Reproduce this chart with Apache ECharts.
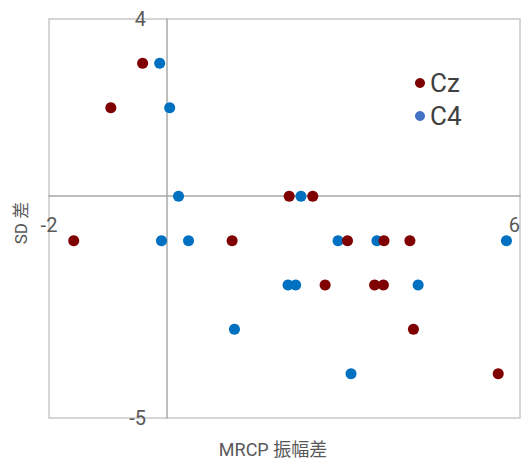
<!DOCTYPE html>
<html>
<head>
<meta charset="utf-8">
<script src="https://cdn.jsdelivr.net/npm/echarts@6/dist/echarts.min.js"></script>
<style>
html,body{margin:0;padding:0;background:#fff;}
#chart{width:523px;height:461px;}
</style>
</head>
<body>
<div id="chart"></div>
<script>
const seriesNames = ['Cz', 'C4'];
const czX = [-0.41, -0.95, -1.58, 1.11, 2.08, 2.48, 3.07, 3.69, 4.13, 2.69, 3.53, 3.68, 4.19, 5.63];
const czY = [3, 2, -1, -1, 0, 0, -1, -1, -1, -2, -2, -2, -3, -4];
const c4X = [-0.12, 0.05, 0.20, -0.09, 0.37, 1.15, 2.28, 2.91, 3.57, 5.77, 2.06, 2.19, 4.27, 3.13];
const c4Y = [3, 2, 0, -1, -1, -3, 0, -1, -1, -1, -2, -2, -2, -4];
const xTickLabels = [-2, 6];
const yTickLabels = [-5, 4];
const xTitle = 'MRCP 振幅差';
const yTitle = 'SD 差';

const FONT = "Roboto, 'Noto Sans CJK JP', sans-serif";
const zip = (xs, ys) => xs.map((x, i) => [x, ys[i]]);

const chart = echarts.init(document.getElementById('chart'), null, {renderer: 'svg'});
chart.setOption({
  animation: false,
  backgroundColor: '#ffffff',
  textStyle: {fontFamily: FONT},
  grid: {left: 49, top: 19, right: 3, bottom: 43, containLabel: false, outerBoundsMode: 'none',
         show: true, borderColor: '#c8c8c8', borderWidth: 1.5, backgroundColor: 'transparent'},
  legend: {
    orient: 'vertical',
    left: 410,
    top: 65,
    itemWidth: 10,
    itemHeight: 10,
    itemGap: 7,
    itemTextGap: 6,
    icon: 'circle',
    textStyle: {fontSize: 26, color: '#404040', fontFamily: FONT},
    data: [
      {name: seriesNames[0], itemStyle: {color: '#7F0000'}},
      {name: seriesNames[1], itemStyle: {color: '#4472C4'}}
    ]
  },
  xAxis: {
    type: 'value',
    min: -2, max: 6, interval: 1,
    position: 'bottom',
    offset: -222,
    axisLine: {show: true, onZero: false, lineStyle: {color: '#a8a8a8', width: 1.5}},
    axisTick: {show: false},
    splitLine: {show: false},
    axisLabel: {
      margin: 19, fontSize: 20, color: '#595959', fontFamily: FONT,
      showMinLabel: true, showMaxLabel: true, hideOverlap: false,
      alignMaxLabel: 'right',
      formatter: v => (xTickLabels.includes(v) ? String(v) : '')
    }
  },
  yAxis: {
    type: 'value',
    min: -5, max: 4, interval: 1,
    position: 'left',
    offset: -118,
    axisLine: {show: true, onZero: false, lineStyle: {color: '#a8a8a8', width: 1.5}},
    axisTick: {show: false},
    splitLine: {show: false},
    axisLabel: {
      margin: 21, fontSize: 20, color: '#595959', fontFamily: FONT,
      showMinLabel: true, showMaxLabel: true, hideOverlap: false,
      formatter: v => (yTickLabels.includes(v) ? String(v) : '')
    }
  },
  graphic: [
    {type: 'text', x: 273, y: 449, style: {text: xTitle, fontSize: 18, fill: '#595959', fontFamily: FONT, align: 'center', verticalAlign: 'middle'}},
    {type: 'text', rotation: Math.PI / 2, x: 21, y: 223, style: {text: yTitle, fontSize: 17, fill: '#595959', fontFamily: FONT, align: 'center', verticalAlign: 'middle'}}
  ],
  series: [
    {name: seriesNames[1], type: 'scatter', symbolSize: 11, z: 2, itemStyle: {color: '#0070C0', opacity: 1}, data: zip(c4X, c4Y)},
    {name: seriesNames[0], type: 'scatter', symbolSize: 11, z: 3, itemStyle: {color: '#7F0000', opacity: 1}, data: zip(czX, czY)}
  ]
});
</script>
</body>
</html>
